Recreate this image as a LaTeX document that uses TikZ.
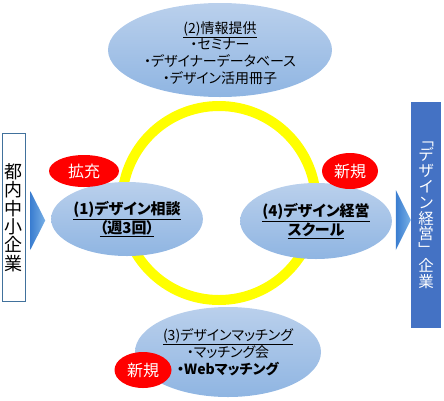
\documentclass[tikz,border=0pt]{standalone}
\usepackage{fontspec}
\setmainfont[RawFeature=+palt]{Noto Sans CJK JP}
\usepackage{tikz}
\usetikzlibrary{positioning,calc,shapes.geometric}
\definecolor{ringyellow}{RGB}{255,255,0}
\definecolor{elltop}{RGB}{186,208,236}
\definecolor{ellbottom}{RGB}{143,181,226}
\definecolor{boxline}{RGB}{65,113,156}
\definecolor{boxblue}{RGB}{68,114,196}
\definecolor{tridark}{RGB}{58,125,208}
\definecolor{trilight}{RGB}{120,176,230}

\begin{document}
\begin{tikzpicture}[x=1pt,y=-1pt,
    svc/.style={ellipse,top color=elltop,bottom color=ellbottom,draw=none,inner sep=0pt,align=center},
    badge/.style={ellipse,fill=red,text=white,inner sep=0pt,font=\fontsize{16}{18}\selectfont},
    arrowtri/.style={left color=tridark,right color=trilight,draw=none}]
\useasboundingbox (0,0) rectangle (444,400);

% Ring
\node[circle,draw=ringyellow,line width=10pt,minimum size=194pt,inner sep=0pt] (ring) at (219,203) {};

% Services
\node[svc,minimum width=224pt,minimum height=94pt,font=\fontsize{14}{16.7}\selectfont] (info) at (220,50) {};
\node[align=center,inner sep=0pt,font=\fontsize{14}{16.7}\selectfont] (infotext) at (220,53)
    {\underline{(2)情報提供}\\・セミナー\\・デザイナーデータベース\\・デザイン活用冊子};
\node[svc,minimum width=150pt,minimum height=74pt,font=\fontsize{15}{19}\selectfont\bfseries] (soudan) at (127,219)
    {\underline{(1)デザイン相談}\\\underline{（週3回）}};
\node[svc,minimum width=144pt,minimum height=76pt,font=\fontsize{15}{19}\selectfont\bfseries] (school) at (316,221)
    {\underline{(4)デザイン経営}\\\underline{スクール}};
\node[svc,minimum width=186pt,minimum height=90pt,font=\fontsize{14}{16.5}\selectfont] (matching) at (228,352)
    {\underline{(3)デザインマッチング}\\・マッチング会\\\textbf{・Webマッチング}};

% Badges
\node[badge,minimum width=70pt,minimum height=32pt] (kakuju) at (84,171) {拡充};
\node[badge,minimum width=56pt,minimum height=36pt] (shinkiR) at (350,171) {新規};
\node[badge,minimum width=57pt,minimum height=36pt] (shinkiB) at (143,370) {新規};

% Companies
\node[draw=boxline,line width=1.5pt,fill=white,minimum width=23pt,minimum height=168pt,inner sep=0pt,
    align=center,font=\fontsize{18}{18.3}\selectfont] (chusho) at (14,217.5)
    {都\\内\\中\\小\\企\\業};
\node[fill=boxblue,text=white,minimum width=30pt,minimum height=226pt,inner sep=0pt,
    align=center,font=\fontsize{15.5}{15.8}\selectfont] (kigyou) at (426,215)
    {﹁\\デ\\ザ\\イ\\ン\\経\\営\\﹂\\企\\業};

% Arrows
\shade[arrowtri] ($(chusho.east)+(4,-26.5)$) -- ++(15,29.5) -- ++(-15,29.5) -- cycle;
\shade[arrowtri] ($(kigyou.west)+(-15,-25)$) -- ++(15,30) -- ++(-15,30) -- cycle;

\end{tikzpicture}
\end{document}
